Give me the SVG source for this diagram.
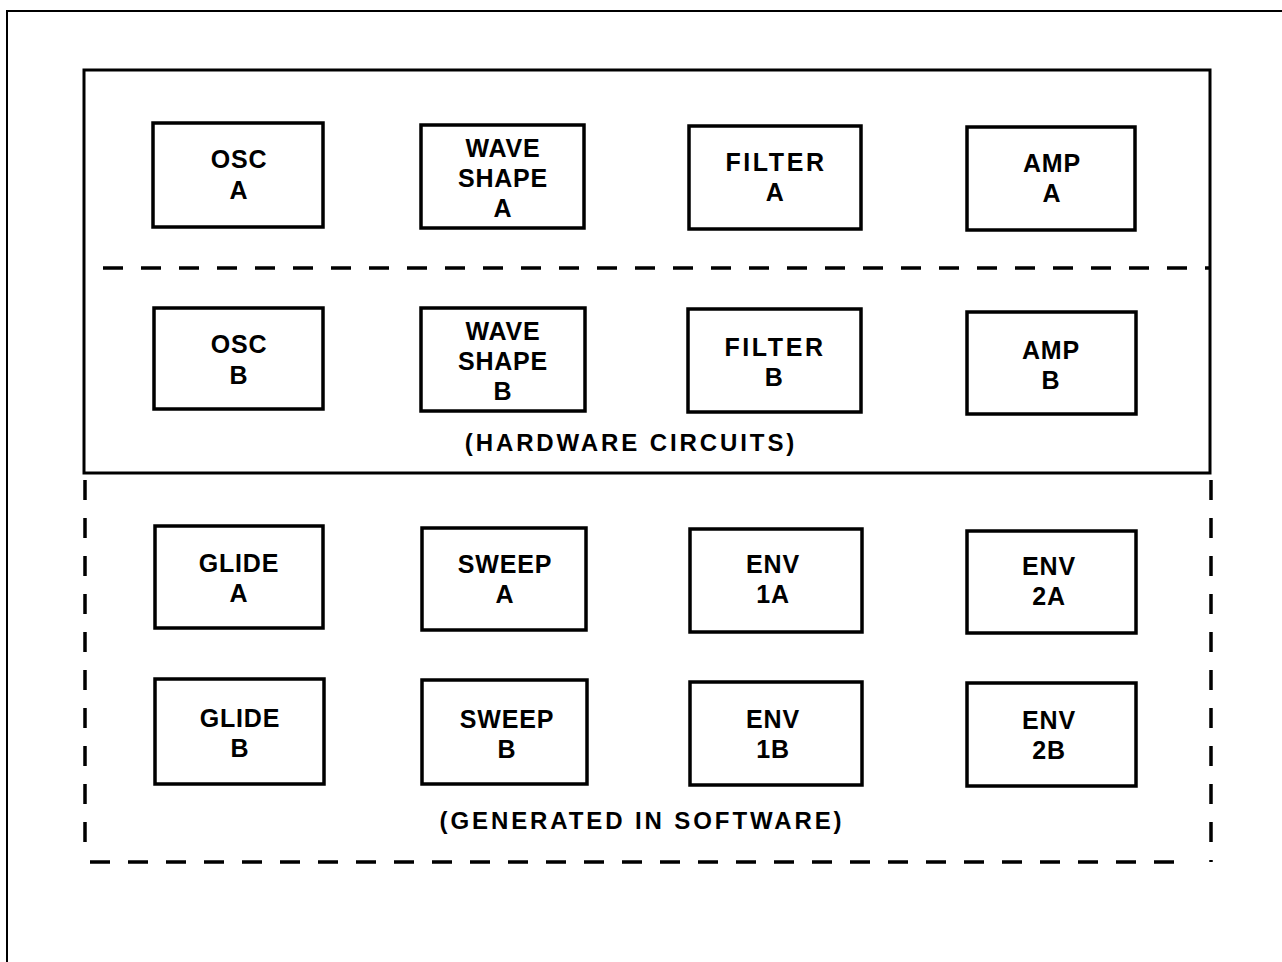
<svg xmlns="http://www.w3.org/2000/svg" width="1282" height="962" viewBox="0 0 1282 962">
<style>
.box{fill:#fff;stroke:#000;stroke-width:3.5}
.lbl{font-family:"Liberation Sans",Arial,sans-serif;font-weight:bold;font-size:25px;text-anchor:middle;fill:#000;letter-spacing:0.8px}
.cap{font-family:"Liberation Sans",Arial,sans-serif;font-weight:bold;font-size:24px;text-anchor:middle;fill:#000;letter-spacing:2.9px}
.solid{fill:none;stroke:#000;stroke-width:3}
.dash{fill:none;stroke:#000;stroke-width:3.5;stroke-dasharray:20 18}
.frame{fill:none;stroke:#000;stroke-width:2}
</style>
<rect width="1282" height="962" fill="#fff"/>
<g id="frame">
<path class="frame" d="M7 962 V11 H1282"/>
</g>
<g id="hardware">
<rect class="solid" x="84" y="70" width="1126" height="403"/>
<path class="dash" d="M103 268 H1210"/>
<text class="cap" x="631" y="451">(HARDWARE CIRCUITS)</text>
</g>
<g id="software">
<path class="dash" d="M85 480 V845"/>
<path class="dash" d="M1211 480 V862"/>
<path class="dash" d="M90 862 H1192"/>
<text class="cap" x="642" y="829">(GENERATED IN SOFTWARE)</text>
</g>
<g id="oscA"><rect class="box" x="153" y="123" width="170" height="104"/><text class="lbl"><tspan x="239" y="168">OSC</tspan><tspan x="239" y="199">A</tspan></text></g>
<g id="waveA"><rect class="box" x="421" y="125" width="163" height="103"/><text class="lbl"><tspan x="503" y="157">WAVE</tspan><tspan x="503" y="187">SHAPE</tspan><tspan x="503" y="217">A</tspan></text></g>
<g id="filterA"><rect class="box" x="689" y="126" width="172" height="103"/><text class="lbl" style="letter-spacing:2.6px"><tspan x="776" y="171">FILTER</tspan><tspan x="776" y="201">A</tspan></text></g>
<g id="ampA"><rect class="box" x="967" y="127" width="168" height="103"/><text class="lbl"><tspan x="1052" y="172">AMP</tspan><tspan x="1052" y="202">A</tspan></text></g>
<g id="oscB"><rect class="box" x="154" y="308" width="169" height="101"/><text class="lbl"><tspan x="239" y="353">OSC</tspan><tspan x="239" y="384">B</tspan></text></g>
<g id="waveB"><rect class="box" x="421" y="308" width="164" height="103"/><text class="lbl"><tspan x="503" y="340">WAVE</tspan><tspan x="503" y="370">SHAPE</tspan><tspan x="503" y="400">B</tspan></text></g>
<g id="filterB"><rect class="box" x="688" y="309" width="173" height="103"/><text class="lbl" style="letter-spacing:2.6px"><tspan x="775" y="356">FILTER</tspan><tspan x="775" y="386">B</tspan></text></g>
<g id="ampB"><rect class="box" x="967" y="312" width="169" height="102"/><text class="lbl"><tspan x="1051" y="359">AMP</tspan><tspan x="1051" y="389">B</tspan></text></g>
<g id="glideA"><rect class="box" x="155" y="526" width="168" height="102"/><text class="lbl"><tspan x="239" y="572">GLIDE</tspan><tspan x="239" y="602">A</tspan></text></g>
<g id="sweepA"><rect class="box" x="422" y="528" width="164" height="102"/><text class="lbl"><tspan x="505" y="573">SWEEP</tspan><tspan x="505" y="603">A</tspan></text></g>
<g id="env1A"><rect class="box" x="690" y="529" width="172" height="103"/><text class="lbl"><tspan x="773" y="573">ENV</tspan><tspan x="773" y="603">1A</tspan></text></g>
<g id="env2A"><rect class="box" x="967" y="531" width="169" height="102"/><text class="lbl"><tspan x="1049" y="575">ENV</tspan><tspan x="1049" y="605">2A</tspan></text></g>
<g id="glideB"><rect class="box" x="155" y="679" width="169" height="105"/><text class="lbl"><tspan x="240" y="727">GLIDE</tspan><tspan x="240" y="757">B</tspan></text></g>
<g id="sweepB"><rect class="box" x="422" y="680" width="165" height="104"/><text class="lbl"><tspan x="507" y="728">SWEEP</tspan><tspan x="507" y="758">B</tspan></text></g>
<g id="env1B"><rect class="box" x="690" y="682" width="172" height="103"/><text class="lbl"><tspan x="773" y="728">ENV</tspan><tspan x="773" y="758">1B</tspan></text></g>
<g id="env2B"><rect class="box" x="967" y="683" width="169" height="103"/><text class="lbl"><tspan x="1049" y="729">ENV</tspan><tspan x="1049" y="759">2B</tspan></text></g>
<g id="connectors"></g>
</svg>
